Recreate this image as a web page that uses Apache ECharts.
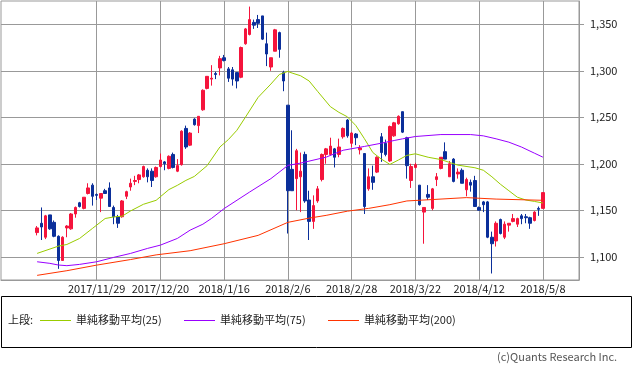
<!DOCTYPE html>
<html><head><meta charset="utf-8">
<script src="https://cdn.jsdelivr.net/npm/echarts@6/dist/echarts.min.js"></script>
<style>html,body{margin:0;padding:0;background:#fff}#c{width:633px;height:370px}</style>
</head><body><div id="c"></div>
<script>
const dates = ['2017/11/8','2017/11/9','2017/11/10','2017/11/13','2017/11/14','2017/11/15','2017/11/16','2017/11/17','2017/11/20','2017/11/21','2017/11/22','2017/11/24','2017/11/27','2017/11/28','2017/11/29','2017/11/30',
'2017/12/1','2017/12/4','2017/12/5','2017/12/6','2017/12/7','2017/12/8','2017/12/11','2017/12/12','2017/12/13','2017/12/14','2017/12/15','2017/12/18','2017/12/19','2017/12/20','2017/12/21','2017/12/22','2017/12/25','2017/12/26','2017/12/27','2017/12/28','2017/12/29',
'2018/1/4','2018/1/5','2018/1/9','2018/1/10','2018/1/11','2018/1/12','2018/1/15','2018/1/16','2018/1/17','2018/1/18','2018/1/19','2018/1/22','2018/1/23','2018/1/24','2018/1/25','2018/1/26','2018/1/29','2018/1/30','2018/1/31',
'2018/2/1','2018/2/2','2018/2/5','2018/2/6','2018/2/7','2018/2/8','2018/2/9','2018/2/13','2018/2/14','2018/2/15','2018/2/16','2018/2/19','2018/2/20','2018/2/21','2018/2/22','2018/2/23','2018/2/26','2018/2/27','2018/2/28',
'2018/3/1','2018/3/2','2018/3/5','2018/3/6','2018/3/7','2018/3/8','2018/3/9','2018/3/12','2018/3/13','2018/3/14','2018/3/15','2018/3/16','2018/3/19','2018/3/20','2018/3/22','2018/3/23','2018/3/26','2018/3/27','2018/3/28','2018/3/29','2018/3/30',
'2018/4/2','2018/4/3','2018/4/4','2018/4/5','2018/4/6','2018/4/9','2018/4/10','2018/4/11','2018/4/12','2018/4/13','2018/4/16','2018/4/17','2018/4/18','2018/4/19','2018/4/20','2018/4/23','2018/4/24','2018/4/25','2018/4/26','2018/4/27',
'2018/5/1','2018/5/2','2018/5/7','2018/5/8'];

const opens  = [1126,1136,1121,1145,1137,1122,1096,1131,1130,1146,1158,1152,1168,1177,1167,1163,1171,1174,1153,1143,1143,1165,1175,1181,1183,1186,1193,1192,1186,1197,1202,1195,1210,1192,1199,1238,1220,1248,1241,1258,1281,1291,1297,1303,1314,1302,1301,1298,1293,1329,1339,1352,1355,1359,1329,1304,1321,1341,1298,1263,1194,1184,1186,1210,1161,1138,1160,1183,1210,1210,1216,1210,1229,1247,1222,1232,1215,1211,1173,1186,1191,1229,1222,1203,1230,1243,1256,1228,1182,1196,1177,1148,1167,1152,1183,1195,1213,1186,1205,1189,1193,1172,1180,1182,1153,1159,1159,1121,1117,1140,1121,1134,1138,1135,1144,1143,1142,1139,1152,1152];
const closes = [1131,1132,1144,1130,1122,1096,1121,1133,1146,1153,1154,1164,1174,1165,1166,1168,1168,1154,1143,1136,1160,1170,1179,1182,1188,1197,1186,1182,1196,1204,1200,1208,1196,1198,1235,1218,1233,1242,1251,1279,1294,1292,1296,1313,1311,1292,1291,1289,1325,1345,1355,1349,1351,1334,1318,1314,1344,1323,1289,1171,1171,1214,1192,1160,1138,1155,1173,1210,1216,1219,1207,1218,1238,1230,1233,1228,1217,1154,1186,1180,1207,1212,1210,1240,1244,1251,1234,1198,1197,1199,1156,1153,1164,1173,1186,1207,1205,1200,1181,1191,1179,1183,1177,1154,1150,1156,1121,1114,1136,1125,1135,1136,1141,1141,1141,1142,1136,1148,1151,1169];
const lows   = [1123,1118,1119,1129,1121,1087,1096,1121,1129,1142,1153,1151,1167,1155,1161,1148,1168,1154,1135,1131,1142,1162,1171,1177,1179,1185,1180,1175,1185,1196,1193,1194,1195,1191,1198,1216,1219,1241,1233,1257,1280,1284,1291,1295,1310,1288,1284,1281,1292,1328,1338,1345,1346,1333,1305,1300,1321,1314,1278,1125,1171,1150,1148,1158,1118,1130,1158,1181,1200,1209,1196,1207,1227,1228,1218,1220,1210,1146,1171,1172,1190,1202,1208,1202,1229,1242,1233,1184,1174,1195,1155,1114,1161,1150,1176,1194,1205,1186,1180,1184,1179,1165,1170,1154,1150,1148,1120,1082,1111,1124,1119,1127,1137,1132,1135,1136,1130,1138,1144,1152];
const highs  = [1133,1153,1145,1145,1139,1123,1122,1134,1147,1154,1159,1164,1179,1179,1168,1168,1173,1180,1155,1145,1161,1171,1184,1187,1189,1198,1195,1195,1197,1211,1203,1209,1212,1205,1236,1241,1234,1249,1251,1280,1294,1306,1299,1316,1317,1304,1304,1298,1326,1346,1369,1355,1360,1359,1341,1314,1345,1342,1300,1263,1236,1216,1212,1213,1171,1166,1176,1211,1217,1228,1217,1227,1239,1248,1234,1233,1220,1211,1195,1198,1208,1233,1226,1241,1245,1252,1256,1229,1200,1201,1177,1153,1177,1174,1190,1207,1223,1203,1206,1195,1195,1185,1183,1187,1154,1160,1160,1127,1138,1141,1138,1136,1146,1142,1146,1146,1143,1149,1154,1169];

// moving averages: [day index, value]
const ma25 = [[0,1103.6],[5,1111.4],[7,1113.2],[10,1119.7],[13,1130.4],[16,1141.1],[18,1142.8],[20,1143.6],[22,1149.3],[25,1156.4],[28,1160.7],[31,1172.2],[33,1176.8],[35,1182.1],[37,1186.4],[40,1198],[43,1218],[45,1226],[47,1236],[49,1250],[52,1271.4],[55,1285.7],[57,1296],[59,1299.3],[60,1297.5],[62,1294.6],[64,1289],[66,1277.8],[69,1261.4],[71,1255.3],[73,1250.5],[75,1241],[77,1227],[79,1212],[81,1205],[83,1199.3],[85,1204],[87,1209],[89,1210.7],[92,1207],[95,1204.5],[99,1198.5],[103,1195.7],[105,1193],[107,1186],[109,1178],[111,1171],[113,1164],[115,1161],[117,1159.5],[119,1157.8]];
const ma75 = [[0,1094.6],[3,1092.9],[5,1091.1],[7,1090.4],[10,1091.8],[14,1094.6],[18,1099.3],[22,1103.6],[26,1109],[29,1112.5],[33,1119.7],[36,1128.6],[39,1135],[41,1141.1],[44,1151.8],[50,1169.6],[55,1184],[59,1198.2],[62,1200.7],[68,1207.1],[72,1214.5],[77,1218.6],[81,1222.1],[84,1225],[86,1226.8],[89,1229.3],[95,1231.4],[102,1231.4],[105,1230],[108,1226.8],[111,1223.2],[114,1217.9],[117,1211.4],[119,1207.1]];
const ma200 = [[0,1080],[7,1085],[14,1091],[22,1097],[28,1102],[36,1106.5],[44,1114],[52,1123],[59,1137],[64,1141.5],[68,1144.5],[73,1149],[78,1152],[83,1156],[87,1160],[93,1161.5],[101,1163.6],[108,1162],[119,1160.7]];

const tickDates = ['2017/11/29','2017/12/20','2018/1/16','2018/2/6','2018/2/28','2018/3/22','2018/4/12','2018/5/8'];
const yTicks = [1100,1150,1200,1250,1300,1350];
const legendNames = ['単純移動平均(25)','単純移動平均(75)','単純移動平均(200)'];
const lineColors = ['#99cc00','#9900ff','#ff3300'];

const PAD = 8;
const cats = [];
for (let i = 0; i < PAD; i++) cats.push('pre' + i);
dates.forEach(d => cats.push(d));
for (let i = 0; i < PAD; i++) cats.push('post' + i);

const candle = cats.map(() => '-');
dates.forEach((d, i) => { candle[i + PAD] = [opens[i], closes[i], lows[i], highs[i]]; });
function maSeries(pts) {
  const arr = cats.map(() => null);
  pts.forEach(p => { arr[p[0] + PAD] = p[1]; });
  return arr;
}
const tickSet = new Set(tickDates);
const FONT = '"Noto Sans CJK JP", "Noto Sans", sans-serif';

const chart = echarts.init(document.getElementById('c'), null, {renderer: 'canvas'});
const grey = '#999999';
const legendItems = [];
const lx = [40, 184, 328];
legendNames.forEach((n, k) => {
  legendItems.push({type: 'line', shape: {x1: lx[k], y1: 320.5, x2: lx[k] + 31, y2: 320.5}, style: {stroke: lineColors[k], lineWidth: 1}});
  legendItems.push({type: 'text', x: lx[k] + 36, y: 320, style: {text: n, font: '11px ' + FONT, fill: '#222', textVerticalAlign: 'middle'}});
});

chart.setOption({
  animation: false,
  backgroundColor: '#fff',
  grid: {left: 1, right: 54, top: 1, bottom: 90, show: true, borderColor: grey, borderWidth: 1, backgroundColor: 'transparent'},
  xAxis: {
    type: 'category', data: cats, boundaryGap: true,
    axisLine: {show: true, lineStyle: {color: grey}},
    axisTick: {show: false},
    axisLabel: {interval: (i, v) => tickSet.has(v), formatter: v => v, color: '#222', fontSize: 11, fontFamily: FONT, margin: 3},
    splitLine: {show: true, alignWithLabel: true, interval: (i, v) => tickSet.has(v), lineStyle: {color: grey, width: 1}}
  },
  yAxis: {
    type: 'value', position: 'right', min: 1075, max: 1375, scale: true,
    axisLine: {show: true, lineStyle: {color: grey}},
    axisTick: {show: true, length: 5, customValues: yTicks, lineStyle: {color: grey}},
    axisLabel: {customValues: yTicks, color: '#222', fontSize: 11, fontFamily: FONT, margin: 11,
      formatter: v => v.toLocaleString('en-US')},
    splitLine: {show: true, lineStyle: {color: grey, width: 1}}
  },
  series: [
    {type: 'candlestick', data: candle, barWidth: 3, z: 3,
     itemStyle: {color: '#f5143c', color0: '#0b2f9a', borderColor: '#f5143c', borderColor0: '#0b2f9a', borderWidth: 1}},
    {type: 'line', name: legendNames[0], data: maSeries(ma25), connectNulls: true, showSymbol: false, symbol: 'none', z: 4, lineStyle: {color: lineColors[0], width: 1}},
    {type: 'line', name: legendNames[1], data: maSeries(ma75), connectNulls: true, showSymbol: false, symbol: 'none', z: 4, lineStyle: {color: lineColors[1], width: 1}},
    {type: 'line', name: legendNames[2], data: maSeries(ma200), connectNulls: true, showSymbol: false, symbol: 'none', z: 4, lineStyle: {color: lineColors[2], width: 1}}
  ],
  graphic: [
    {type: 'rect', shape: {x: 1.5, y: 296.5, width: 630, height: 51}, style: {fill: '#fff', stroke: '#000', lineWidth: 1}},
    {type: 'text', x: 8, y: 320, style: {text: '上段:', font: '11px ' + FONT, fill: '#222', textVerticalAlign: 'middle'}},
    ...legendItems,
    {type: 'text', x: 497, y: 357, style: {text: '(c)Quants Research Inc.', font: '11px ' + FONT, fill: '#555', textVerticalAlign: 'middle'}}
  ]
});
</script></body></html>
